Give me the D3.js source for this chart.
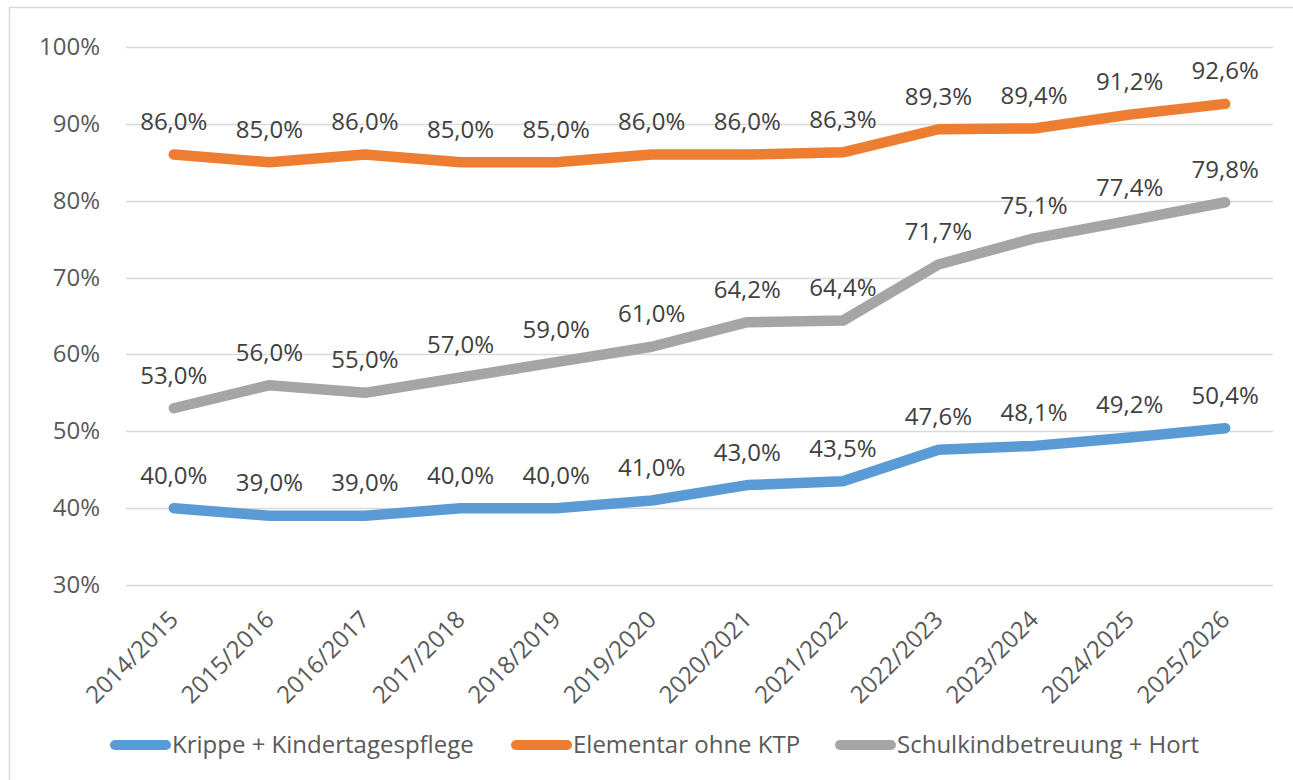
<!DOCTYPE html>
<html><head><meta charset="utf-8">
<script src="https://cdn.jsdelivr.net/npm/d3@7"></script>
<style>html,body{margin:0;padding:0;background:#fff;}svg{display:block;font-family:"Open Sans","Noto Sans",sans-serif;}</style>
</head><body>
<svg id="chart" width="1293" height="780"></svg>
<script>
const categories = ["2014/2015","2015/2016","2016/2017","2017/2018","2018/2019","2019/2020","2020/2021","2021/2022","2022/2023","2023/2024","2024/2025","2025/2026"];
const krippe = [40.0,39.0,39.0,40.0,40.0,41.0,43.0,43.5,47.6,48.1,49.2,50.4];
const elementar = [86.0,85.0,86.0,85.0,85.0,86.0,86.0,86.3,89.3,89.4,91.2,92.6];
const schule = [53.0,56.0,55.0,57.0,59.0,61.0,64.2,64.4,71.7,75.1,77.4,79.8];
const yTicks = [30,40,50,60,70,80,90,100];
const seriesNames = ["Krippe + Kindertagespflege","Elementar ohne KTP","Schulkindbetreuung + Hort"];
const seriesColors = ["#5B9BD5","#ED7D31","#A5A5A5"];

(function(){
const series = [krippe, elementar, schule];
const svg = d3.select("#chart");
const pL = 126, pR = 1273, pT = 47, pB = 585;
const fs = 24;

svg.append("rect").attr("x",9.5).attr("y",7.5).attr("width",1300).attr("height",800)
  .attr("fill","#fff").attr("stroke","#d9d9d9").attr("stroke-width",1.5);

const x = d3.scaleBand().domain(categories).range([pL,pR]);
const y = d3.scaleLinear().domain([30,100]).range([pB,pT]);
const cx = c => x(c) + x.bandwidth()/2;

svg.append("g").selectAll("line").data(yTicks).join("line")
  .attr("x1",pL).attr("x2",pR)
  .attr("y1",d=>Math.round(y(d))+0.5).attr("y2",d=>Math.round(y(d))+0.5)
  .attr("stroke","#d9d9d9").attr("stroke-width",1.5);

svg.append("g").selectAll("text").data(yTicks).join("text")
  .attr("x",100).attr("y",d=>y(d)+8).attr("text-anchor","end")
  .attr("font-size",fs).attr("fill","#595959").text(d=>d+"%");

svg.append("g").selectAll("text").data(categories).join("text")
  .attr("transform",d=>`translate(${cx(d)+6},${pB+36}) rotate(-45)`)
  .attr("text-anchor","end")
  .attr("font-size",fs).attr("fill","#595959").text(d=>d);

const line = d3.line().x((d,i)=>cx(categories[i])).y(d=>y(d));
series.forEach((s,k)=>{
  svg.append("path").datum(s).attr("d",line).attr("fill","none")
    .attr("stroke",seriesColors[k]).attr("stroke-width",10.5)
    .attr("stroke-linecap","round").attr("stroke-linejoin","round");
});
series.forEach((s,k)=>{
  svg.append("g").selectAll("text").data(s).join("text")
    .attr("x",(d,i)=>cx(categories[i])).attr("y",d=>y(d)-24.5)
    .attr("text-anchor","middle").attr("font-size",fs).attr("fill","#404040")
    .text(d=>d.toFixed(1).replace(".",",")+"%");
});

const legX = [110,511,835];
seriesNames.forEach((n,k)=>{
  svg.append("line").attr("x1",legX[k]+5).attr("x2",legX[k]+56).attr("y1",745).attr("y2",745)
    .attr("stroke",seriesColors[k]).attr("stroke-width",10).attr("stroke-linecap","round");
  svg.append("text").attr("x",legX[k]+62).attr("y",753)
    .attr("font-size",fs).attr("fill","#595959").text(n);
});
})();
</script>
</body></html>
